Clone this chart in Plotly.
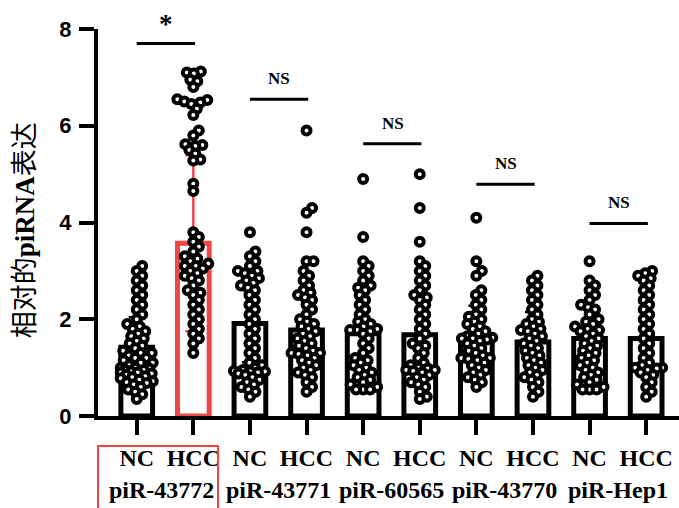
import plotly.graph_objects as go

# ---------------- data ----------------
conditions = ["NC", "HCC", "NC", "HCC", "NC", "HCC", "NC", "HCC", "NC", "HCC"]
piRNAs = ["piR-43772", "piR-43771", "piR-60565", "piR-43770", "piR-Hep1"]
y_ticks = [0, 2, 4, 6, 8]

bar_means = [1.42, 3.57, 1.91, 1.78, 1.70, 1.68, 1.58, 1.53, 1.60, 1.60]
bar_sd = [0.62, 1.82, 0.80, 0.85, 0.92, 0.90, 0.70, 0.62, 0.62, 0.75]

nc_43772 = [3.1, 3.0, 2.9, 2.8, 2.7, 2.6, 2.5, 2.4, 2.3, 2.2, 2.1, 2.0, 1.9, 1.85, 1.8, 1.75,
            1.7, 1.65, 1.6, 1.55, 1.5, 1.45, 1.4, 1.35, 1.3, 1.3, 1.25, 1.2, 1.2, 1.15, 1.1, 1.1,
            1.05, 1.0, 1.0, 0.98, 0.95, 0.95, 0.92, 0.9, 0.9, 0.88, 0.85, 0.82, 0.8, 0.78, 0.75,
            0.72, 0.7, 0.68, 0.65, 0.6, 0.55, 0.5, 0.45, 0.35]
hcc_43772 = [7.12, 7.1, 7.08, 6.95, 6.92, 6.8, 6.55, 6.53, 6.5, 6.48, 6.45, 6.35, 6.22, 5.9,
             5.8, 5.62, 5.6, 5.58, 5.5, 5.42, 5.3, 5.28, 4.8, 4.65, 3.8, 3.7, 3.6, 3.5, 3.4, 3.3,
             3.25, 3.2, 3.15, 3.1, 3.1, 3.05, 3.0, 2.95, 2.9, 2.85, 2.8, 2.7, 2.6, 2.55, 2.5, 2.4,
             2.3, 2.2, 2.1, 2.0, 1.9, 1.8, 1.7, 1.6, 1.5, 1.3]
nc_43771 = [3.8, 3.4, 3.3, 3.2, 3.1, 3.0, 3.0, 2.95, 2.9, 2.85, 2.8, 2.75, 2.7, 2.65, 2.6, 2.5,
            2.4, 2.3, 2.2, 2.1, 2.0, 1.9, 1.8, 1.7, 1.6, 1.5, 1.4, 1.3, 1.2, 1.1, 1.05, 1.0, 0.95,
            0.93, 0.92, 0.92, 0.9, 0.88, 0.85, 0.8, 0.75, 0.7, 0.65, 0.6, 0.55, 0.5, 0.4]
hcc_43771 = [5.9, 4.3, 4.2, 3.8, 3.2, 3.2, 3.0, 2.9, 2.8, 2.7, 2.6, 2.55, 2.5, 2.45, 2.4, 2.3,
             2.2, 2.1, 2.0, 1.95, 1.9, 1.85, 1.8, 1.75, 1.7, 1.65, 1.6, 1.55, 1.5, 1.45, 1.4,
             1.35, 1.3, 1.3, 1.28, 1.25, 1.2, 1.15, 1.1, 1.05, 1.0, 0.95, 0.9, 0.85, 0.8, 0.7,
             0.6, 0.5]
nc_60565 = [4.9, 3.7, 3.2, 3.1, 3.0, 2.9, 2.8, 2.7, 2.65, 2.6, 2.5, 2.4, 2.3, 2.2, 2.1, 2.0,
            1.95, 1.9, 1.85, 1.8, 1.78, 1.78, 1.75, 1.7, 1.6, 1.5, 1.4, 1.3, 1.2, 1.15, 1.1, 1.05,
            1.0, 0.95, 0.9, 0.85, 0.8, 0.75, 0.7, 0.65, 0.6, 0.55, 0.55, 0.55]
hcc_60565 = [5.0, 4.3, 3.6, 3.2, 3.1, 3.0, 2.9, 2.8, 2.7, 2.6, 2.5, 2.45, 2.4, 2.3, 2.2, 2.1,
             2.0, 1.9, 1.8, 1.7, 1.6, 1.5, 1.45, 1.4, 1.3, 1.2, 1.1, 1.05, 1.0, 0.98, 0.95, 0.95,
             0.93, 0.9, 0.85, 0.8, 0.75, 0.7, 0.65, 0.6, 0.5, 0.4, 0.35]
nc_43770 = [4.1, 3.2, 3.0, 2.9, 2.6, 2.5, 2.4, 2.3, 2.2, 2.1, 2.05, 2.0, 1.95, 1.9, 1.85, 1.8,
            1.75, 1.7, 1.65, 1.62, 1.6, 1.6, 1.58, 1.55, 1.5, 1.45, 1.4, 1.35, 1.3, 1.25, 1.2,
            1.2, 1.18, 1.15, 1.1, 1.05, 1.0, 0.95, 0.9, 0.85, 0.8, 0.75, 0.7, 0.6]
hcc_43770 = [2.9, 2.8, 2.7, 2.6, 2.5, 2.4, 2.3, 2.2, 2.1, 2.0, 1.95, 1.9, 1.85, 1.8, 1.78, 1.75,
             1.7, 1.65, 1.6, 1.55, 1.5, 1.45, 1.4, 1.35, 1.3, 1.25, 1.2, 1.15, 1.1, 1.05, 1.0,
             0.95, 0.9, 0.85, 0.8, 0.75, 0.7, 0.6, 0.5, 0.4]
nc_hep1 = [3.2, 2.8, 2.7, 2.6, 2.5, 2.4, 2.3, 2.25, 2.2, 2.1, 2.0, 1.95, 1.9, 1.85, 1.8, 1.78,
           1.75, 1.7, 1.65, 1.6, 1.55, 1.5, 1.45, 1.4, 1.35, 1.3, 1.25, 1.2, 1.15, 1.1, 1.05,
           1.0, 0.95, 0.9, 0.85, 0.8, 0.75, 0.7, 0.65, 0.6, 0.55, 0.55, 0.55]
hcc_hep1 = [3.0, 2.95, 2.9, 2.85, 2.8, 2.7, 2.6, 2.5, 2.4, 2.3, 2.2, 2.1, 2.0, 1.9, 1.8, 1.7,
            1.6, 1.5, 1.4, 1.3, 1.2, 1.1, 1.05, 1.0, 1.0, 0.98, 0.95, 0.9, 0.85, 0.8, 0.7, 0.6,
            0.5, 0.4]

groups = [nc_43772, hcc_43772, nc_43771, hcc_43771, nc_60565, hcc_60565,
          nc_43770, hcc_43770, nc_hep1, hcc_hep1]

sig_labels = ["*", "NS", "NS", "NS", "NS"]
sig_line_y = [7.70, 6.55, 5.63, 4.79, 3.98]

# ---------------- layout constants ----------------
W, H = 679, 508
M_L, M_R, M_T, M_B = 98, 0, 29, 92
X_RANGE = [-0.684, 9.58]
Y_RANGE = [0, 8]
PX_PER_X = (W - M_L - M_R) / (X_RANGE[1] - X_RANGE[0])
PX_PER_Y = (H - M_T - M_B) / (Y_RANGE[1] - Y_RANGE[0])
RED = "#f04646"


def swarm_offsets(vals, min_d=7.0, max_off=16.0):
    """Deterministic beeswarm layout: pixel x offsets for each value."""
    order = sorted(range(len(vals)), key=lambda i: vals[i])
    placed = []
    offs = [0.0] * len(vals)
    for i in order:
        yp = vals[i] * PX_PER_Y
        best, best_score = 0.0, -1
        step = 0.5
        k = 0
        found = False
        while k * step <= max_off:
            for c in ([0.0] if k == 0 else [k * step, -k * step]):
                dmin = min([((c - px) ** 2 + (yp - py) ** 2) ** 0.5 for px, py in placed] or [1e9])
                if dmin >= min_d:
                    best = c
                    found = True
                    break
                if dmin > best_score:
                    best_score, best = dmin, c
            if found:
                break
            k += 1
        placed.append((best, yp))
        offs[i] = best
    return offs


fig = go.Figure()

# bars
for i, m in enumerate(bar_means):
    col = RED if i == 1 else "black"
    fig.add_trace(go.Bar(
        x=[i], y=[m], width=0.56,
        marker=dict(color="white", line=dict(color=col, width=5)),
        error_y=dict(type="data", array=[bar_sd[i]], color=col, thickness=2.5, width=8),
        showlegend=False, hoverinfo="skip"))

# dots
for i, vals in enumerate(groups):
    offs = swarm_offsets(vals)
    xs = [i + o / PX_PER_X for o in offs]
    fig.add_trace(go.Scatter(
        x=xs, y=vals, mode="markers",
        marker=dict(symbol="circle", size=8, color="white",
                    line=dict(color="black", width=4)),
        showlegend=False, hoverinfo="skip", cliponaxis=False))

shapes = []
annotations = []
for g, (lab, ly) in enumerate(zip(sig_labels, sig_line_y)):
    x0 = 2 * g
    shapes.append(dict(type="line", xref="x", yref="y", x0=x0, x1=x0 + 1.03, y0=ly, y1=ly,
                       line=dict(color="black", width=3)))
    if lab == "*":
        annotations.append(dict(x=x0 + 0.52, y=ly, xref="x", yref="y", text="<b>*</b>",
                                showarrow=False, yanchor="bottom", yshift=3,
                                font=dict(family="Liberation Serif", size=27, color="black")))
    else:
        annotations.append(dict(x=x0 + 0.52, y=ly, xref="x", yref="y", text="<b>NS</b>",
                                showarrow=False, yanchor="bottom", yshift=9,
                                font=dict(family="Liberation Serif", size=17, color="black")))

# group labels
for g, name in enumerate(piRNAs):
    xc = 2 * g + 0.5 - (0.07 if g == 0 else 0)
    annotations.append(dict(x=xc, y=-0.19, xref="x", yref="paper", text="<b>%s</b>" % name,
                            showarrow=False, yanchor="middle",
                            font=dict(family="Liberation Serif", size=24, color="black")))

# red box around first group labels
shapes.append(dict(type="rect", xref="paper", yref="paper", x0=0.0, x1=0.2065,
                   y0=-0.40, y1=-0.0775, line=dict(color=RED, width=2)))

# y-axis title
annotations.append(dict(x=-(M_L - 25) / (W - M_L - M_R), y=0.48, xref="paper", yref="paper",
                        text="相对的<b>piRNA</b>表达", textangle=-90, showarrow=False,
                        xanchor="center", yanchor="middle",
                        font=dict(family="Liberation Serif, Noto Sans CJK SC", size=27,
                                  color="black")))

fig.update_layout(
    width=W, height=H,
    margin=dict(l=M_L, r=M_R, t=M_T, b=M_B, pad=0),
    plot_bgcolor="white", paper_bgcolor="white",
    barmode="overlay",
    shapes=shapes, annotations=annotations,
    xaxis=dict(range=X_RANGE, tickmode="array", tickvals=list(range(10)), ticktext=conditions,
               ticks="outside", ticklen=15, tickwidth=4, tickcolor="black",
               showline=True, linecolor="black", linewidth=4, showgrid=False, zeroline=False,
               tickfont=dict(family="Liberation Serif", size=24, color="black", weight="bold"),
               ticklabelstandoff=2, fixedrange=True),
    yaxis=dict(range=Y_RANGE, tickmode="array", tickvals=y_ticks,
               ticks="outside", ticklen=15, tickwidth=4, tickcolor="black",
               showline=True, linecolor="black", linewidth=4, showgrid=False, zeroline=False,
               tickfont=dict(family="Liberation Sans", size=22, color="black", weight="bold"),
               ticklabelstandoff=3, fixedrange=True),
)

fig.write_html("out.html", config={"displayModeBar": False},
               post_script="document.body.style.margin='0';document.body.style.overflow='hidden';")
